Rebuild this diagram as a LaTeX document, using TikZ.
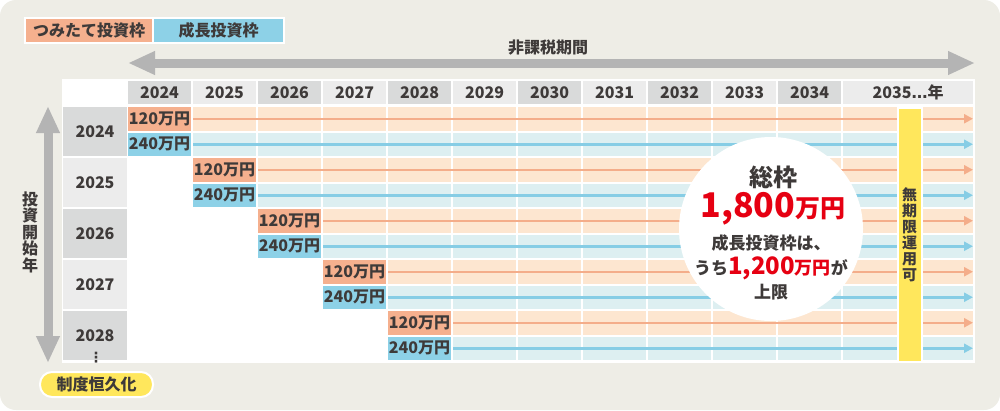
\documentclass[tikz,border=0pt]{standalone}
\usepackage{fontspec}
\setmainfont{Noto Sans CJK JP}
\newfontfamily\dejavu{DejaVu Sans}
\usetikzlibrary{arrows.meta, positioning}
\usepackage{xcolor}
\definecolor{bgbeige}{HTML}{EEEDE6}
\definecolor{tsumi}{HTML}{F5B08E}
\definecolor{tsumilt}{HTML}{FDE6D0}
\definecolor{seicho}{HTML}{8DD1E7}
\definecolor{seicholt}{HTML}{DDEFF1}
\definecolor{tline}{HTML}{F4AD8A}
\definecolor{sline}{HTML}{86CDE5}
\definecolor{hdrdark}{HTML}{D9DADA}
\definecolor{hdrlight}{HTML}{ECECEC}
\definecolor{arrgray}{HTML}{B4B4B4}
\definecolor{barylw}{HTML}{FFE75C}
\definecolor{accred}{HTML}{E60012}
\definecolor{txtgray}{HTML}{3E3A39}
\newcommand{\fsz}[1]{\fontsize{#1}{#1}\selectfont}
\tikzset{
  cell/.style     = {anchor=north west, inner sep=0pt, outer sep=0pt,
                     font={\bfseries\fsz{16}}, text=txtgray},
  hcell/.style    = {cell, minimum width=63pt, minimum height=23pt},
  ycell/.style    = {cell, minimum width=64pt, minimum height=49pt},
  subcell/.style  = {cell, minimum width=63pt, minimum height=23.5pt},
  legbox/.style   = {cell, draw=white, line width=2.5pt, minimum height=25pt},
  bigarrow/.style = {line width=9pt, draw=arrgray, >={Triangle[width=22pt, length=27pt]}},
  tline/.style    = {line width=2.5pt, draw=tline, -{Triangle[width=9pt, length=9pt]}},
  sline/.style    = {line width=2.5pt, draw=sline, -{Triangle[width=9pt, length=9pt]}},
  lbl/.style      = {inner sep=0pt, text=txtgray, font={\bfseries\fsz{16}}},
  vtext/.style    = {lbl, align=center, font={\bfseries\fontsize{16}{16.5}\selectfont}},
}

\begin{document}
\begin{tikzpicture}[x=1pt, y=-1pt]
  \useasboundingbox (0,0) rectangle (1000,410);
  % background card
  \fill[white] (0,0) rectangle (1000,410);
  \fill[bgbeige, rounded corners=16pt] (0,0) rectangle (1000,410);
  % legend
  \node[legbox, fill=tsumi, minimum width=128pt] (legT) at (25,18) {つみたて投資枠};
  \node[legbox, fill=seicho, minimum width=131pt, right=0pt of legT] (legS) {成長投資枠};
  % tax-free period arrow
  \coordinate (perL) at (128,63);
  \coordinate (perR) at (975,63);
  \draw[bigarrow, <->] (perL) -- (perR);
  \node[lbl] (perlbl) at (548,48) {非課税期間};
  % start year arrow
  \coordinate (stT) at (48,106);
  \coordinate (stB) at (48,363);
  \draw[bigarrow, <->] (stT) -- (stB);
  \node[vtext] (stlbl) at (30,232) {投\\資\\開\\始\\年};
  % table
  \fill[white] (62,79) rectangle (975,363);
  % header row
  \foreach \c [evaluate=\c as \xx using 128+65*\c,
               evaluate=\c as \yr using int(2024+\c)] in {0,...,10} {
    \ifodd\c \def\shade{hdrlight}\else \def\shade{hdrdark}\fi
    \node[hcell, fill=\shade] (h\c) at (\xx,81) {\yr};
  }
  \node[hcell, fill=hdrlight, minimum width=130pt] (h11) at (843,81) {2035{\dejavu\bfseries …}年};
  % rows by start year
  \foreach \r [evaluate=\r as \yy using 107+51*\r,
               evaluate=\r as \yr using int(2024+\r)] in {0,...,4} {
    \ifodd\r \def\shade{hdrlight}\else \def\shade{hdrdark}\fi
    \node[ycell, fill=\shade] (y\r) at (63,\yy) {\yr};
    \pgfmathtruncatemacro{\cs}{\r+1}
    \foreach \c in {\cs,...,10} {
      \node[subcell, fill=tsumilt] (ta\r-\c) at (128+65*\c,\yy) {};
      \node[subcell, fill=seicholt] (sb\r-\c) at (128+65*\c,\yy+25.5) {};
    }
    \node[subcell, fill=tsumilt, minimum width=130pt] (ta\r-11) at (843,\yy) {};
    \node[subcell, fill=seicholt, minimum width=130pt] (sb\r-11) at (843,\yy+25.5) {};
    % amount labels
    \node[subcell, fill=tsumi] (t\r) at (128+65*\r,\yy) {120万円};
    \node[subcell, fill=seicho] (s\r) at (128+65*\r,\yy+25.5) {240万円};
    \coordinate (te\r) at (973,\yy+11.75);
    \coordinate (se\r) at (973,\yy+37.25);
    \draw[tline] ([xshift=2pt]t\r.east) -- (te\r);
    \draw[sline] ([xshift=2pt]s\r.east) -- (se\r);
  }
  \node[lbl, font={\dejavu\bfseries\fsz{14}}] (more) at (96,358) {⋮};
  % unlimited holding bar
  \node[anchor=north west, inner sep=0pt, fill=barylw, draw=white, line width=2pt,
        minimum width=24pt, minimum height=254pt] (bar) at (897,107) {};
  \node[vtext, font={\bfseries\fontsize{15}{16}\selectfont}] (barlbl) at (909.5,235)
    {無\\期\\限\\運\\用\\可};
  % total limit circle
  \node[circle, fill=white, inner sep=0pt, minimum size=184pt] (total) at (771,229) {};
  \node[lbl, font={\bfseries\fsz{24}}] (tot1) at (773,177) {総枠};
  \node[lbl, text=accred] (tot2) at (773,209) {\fsz{34}1,800\fsz{25}万円};
  \node[lbl, font={\bfseries\fsz{17}}] (tot3) at (771,243) {成長投資枠は、};
  \node[lbl, font={\bfseries\fsz{17}}] (tot4) at (771,268)
    {うち\textcolor{accred}{\fsz{24}1,200\fsz{18}万円}が};
  \node[lbl, font={\bfseries\fsz{17}}] (tot5) at (771,292) {上限};
  % permanent system badge
  \node[lbl, fill=barylw, draw=white, line width=2pt, rounded corners=12pt,
        minimum width=113pt, minimum height=25pt] (perm) at (96.5,384.5) {制度恒久化};
\end{tikzpicture}
\end{document}
